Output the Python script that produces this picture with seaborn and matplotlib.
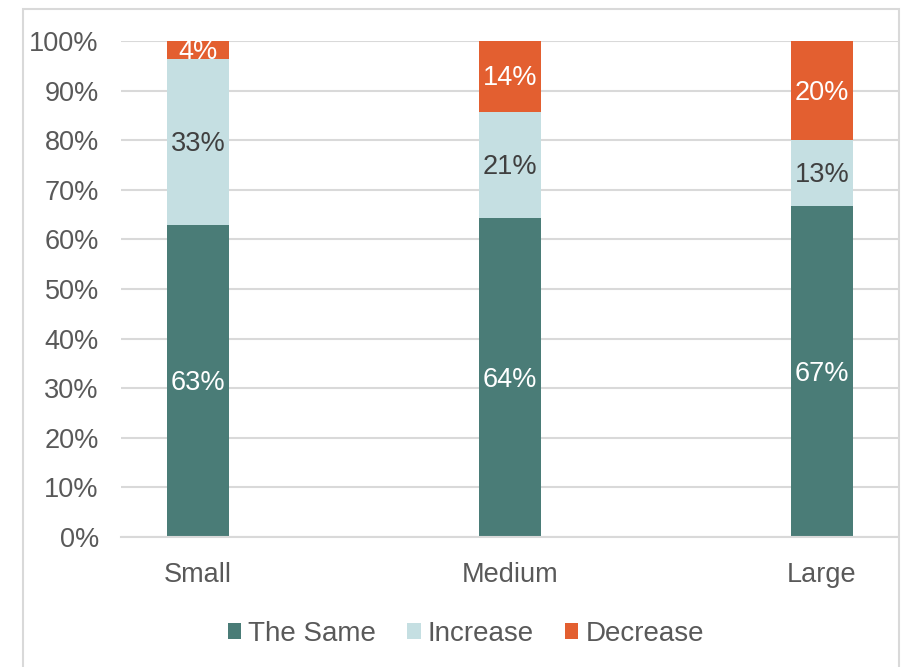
import matplotlib
matplotlib.use("Agg")
import matplotlib.pyplot as plt
from matplotlib.patches import Rectangle, Patch
import numpy as np
import pandas as pd
import seaborn as sns

# Share of responses by company size (percent)
sizes = ["Small", "Medium", "Large"]
the_same = [63.0, 64.3, 66.7]
increase = [33.3, 21.4, 13.3]
decrease = [3.7, 14.3, 20.0]
series_names = ["The Same", "Increase", "Decrease"]
y_ticks = [0, 10, 20, 30, 40, 50, 60, 70, 80, 90, 100]

colors = {"The Same": "#4A7C77", "Increase": "#C5DFE2", "Decrease": "#E35F30"}
label_colors = {"The Same": "white", "Increase": "#404040", "Decrease": "white"}
text_gray = "#595959"
grid_gray = "#D9D9D9"

sns.set_theme(style="white")
plt.rcParams["font.family"] = ["Liberation Sans", "DejaVu Sans"]

fig = plt.figure(figsize=(9.04, 6.67), dpi=100)
ax = fig.add_axes([121 / 904, 130 / 667, (898 - 121) / 904, (626 - 130) / 667])

# Cumulative tops for stacking
same = np.array(the_same)
inc = np.array(increase)
dec = np.array(decrease)
tops = {
    "Decrease": same + inc + dec,
    "Increase": same + inc,
    "The Same": same,
}
bottoms = {
    "Decrease": same + inc,
    "Increase": same,
    "The Same": np.zeros(3),
}
values = {"The Same": same, "Increase": inc, "Decrease": dec}

for name in ["Decrease", "Increase", "The Same"]:
    df = pd.DataFrame({"size": sizes, "value": tops[name]})
    sns.barplot(data=df, x="size", y="value", color=colors[name], width=0.2,
                saturation=1, ax=ax, zorder=3, linewidth=0)

for name in series_names:
    for i in range(3):
        mid = bottoms[name][i] + values[name][i] / 2
        ax.text(i, mid - 0.4, f"{values[name][i]:.0f}%", ha="center", va="center",
                fontsize=19.5, color=label_colors[name], zorder=4, clip_on=False)

ax.set_xlim(-0.247, 2.244)
ax.set_ylim(0, 100)
ax.set_yticks(y_ticks)
ax.set_yticklabels([f"{t}%" for t in y_ticks])
ax.set_xlabel("")
ax.set_ylabel("")
ax.yaxis.grid(True, color=grid_gray, linewidth=1.5, zorder=0)
ax.set_axisbelow(True)
for side in ["top", "right", "left"]:
    ax.spines[side].set_visible(False)
ax.spines["bottom"].set_color(grid_gray)
ax.spines["bottom"].set_linewidth(1.5)
ax.spines["bottom"].set_zorder(5)
ax.tick_params(axis="both", length=0, labelsize=19.5, labelcolor=text_gray)
ax.tick_params(axis="y", pad=16)
ax.tick_params(axis="x", pad=18)

handles = [Patch(facecolor=colors[n], edgecolor="none", label=n) for n in series_names]
leg = fig.legend(handles=handles, loc="center", bbox_to_anchor=(466 / 904, 1 - 634 / 667),
                 ncol=3, frameon=False, fontsize=20, handlelength=0.47, handleheight=0.47,
                 handletextpad=0.26, columnspacing=1.12)
for t in leg.get_texts():
    t.set_color(text_gray)

# Outer chart frame
fig.patches.append(Rectangle((23 / 904, -0.05), (899 - 23) / 904, 1.05 - 9 / 667,
                             transform=fig.transFigure, fill=False,
                             edgecolor=grid_gray, linewidth=1.5))

fig.savefig("out.png", dpi=100)
